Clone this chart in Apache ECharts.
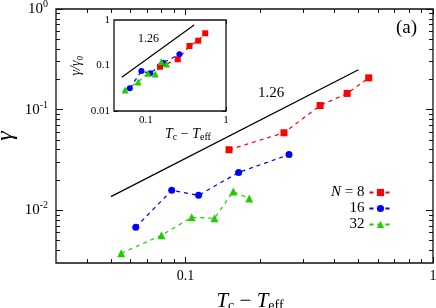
<!DOCTYPE html>
<html><head><meta charset="utf-8">
<script src="https://cdn.jsdelivr.net/npm/echarts@6/dist/echarts.min.js"></script>
<style>html,body{margin:0;padding:0;background:#fff}#c{width:436px;height:308px}</style>
</head><body><div id="c"></div>
<script>
// ---- data ----
var xN8  = [0.15, 0.25, 0.35, 0.45, 0.55];
var yN8  = [0.040, 0.059, 0.110, 0.145, 0.207];
var xN16 = [0.063, 0.088, 0.113, 0.164, 0.262];
var yN16 = [0.0068, 0.0158, 0.0141, 0.0238, 0.0358];
var xN32 = [0.055, 0.080, 0.106, 0.131, 0.156, 0.181];
var yN32 = [0.00375, 0.00565, 0.00853, 0.00833, 0.0154, 0.0131];
// inset: gamma / gamma0
var yN8s  = [0.094, 0.137, 0.268, 0.351, 0.51];
var yN16s = [0.0315, 0.0757, 0.0674, 0.115, 0.176];
var yN32s = [0.029, 0.0434, 0.0674, 0.065, 0.121, 0.108];
// power-law guide lines (slope 1.26)
var fitX = [0.05, 0.5];
var fitY = [0.0137, 0.249];
var fitXs = [0.05, 0.4];
var fitYs = [0.055, 0.78];
// ticks
var mainXMajor = [0.1, 1];
var mainXMinor = [0.04,0.05,0.06,0.07,0.08,0.09,0.2,0.3,0.4,0.5,0.6,0.7,0.8,0.9];
var mainYMajor = [0.01, 0.1, 1];
var mainYMinor = [0.004,0.005,0.006,0.007,0.008,0.009,0.02,0.03,0.04,0.05,0.06,0.07,0.08,0.09,0.2,0.3,0.4,0.5,0.6,0.7,0.8,0.9];
var insXMajor = [0.1, 1];
var insXMinor = [0.05,0.06,0.07,0.08,0.09,0.2,0.3,0.4,0.5,0.6,0.7,0.8,0.9];
var insYMajor = [0.01, 0.1, 1];
var insYMinor = [0.02,0.03,0.04,0.05,0.06,0.07,0.08,0.09,0.2,0.3,0.4,0.5,0.6,0.7,0.8,0.9];
var legendNames = ['N = 8', '16', '32'];

var FONT = 'Liberation Serif';
var AX = '#111';
var RED = '#ff0000', BLUE = '#0000ff', GREEN = '#22cc00';

var chart = echarts.init(document.getElementById('c'), null, { renderer: 'canvas' });
window.chart = chart;

function pairs(xs, ys) { return xs.map(function (x, i) { return [x, ys[i]]; }); }

function axisGroup(dim, grid, min, max, majors, minors, majLen, minLen, first) {
  var sides = dim === 'x' ? ['bottom', 'top'] : ['left', 'right'];
  var out = [];
  sides.forEach(function (side, si) {
    [[majors, majLen], [minors, minLen]].forEach(function (pair, ki) {
      var a = {
        type: 'log', logBase: 10, gridIndex: grid, min: min, max: max, position: side,
        axisLine: { show: false, onZero: false },
        splitLine: { show: false },
        axisTick: { show: true, inside: true, length: pair[1], customValues: pair[0],
                    lineStyle: { color: AX, width: 1 } },
        axisLabel: { show: false }
      };
      if (si === 0 && ki === 0) Object.assign(a, first);
      out.push(a);
    });
  });
  return out;
}

var subRich = {
  i: { fontFamily: FONT, fontStyle: 'italic', fontSize: 21, color: '#000' },
  n: { fontFamily: FONT, fontSize: 21, color: '#000' },
  sub: { fontFamily: FONT, fontSize: 14, color: '#000', padding: [9, 0, 0, 0] }
};
var subRichS = {
  i: { fontFamily: FONT, fontStyle: 'italic', fontSize: 14, color: '#000' },
  n: { fontFamily: FONT, fontSize: 14, color: '#000' },
  sub: { fontFamily: FONT, fontSize: 10, color: '#000', padding: [6, 0, 0, 0] }
};
function fmtNum(v) { return String(+(+v).toPrecision(3)); }

var xAxes = [].concat(
  axisGroup('x', 0, 0.03, 1, mainXMajor, mainXMinor, 6, 4, {
    axisLabel: { show: true, customValues: mainXMajor, formatter: fmtNum,
                 fontFamily: FONT, fontSize: 14, color: '#000', margin: 6 },
    name: '{i|T}{sub|c}{n| − }{i|T}{sub|eff}', nameLocation: 'middle', nameGap: 27, nameMoveOverlap: false,
    nameTextStyle: { rich: subRich, fontFamily: FONT, fontSize: 21, padding: [0, 0, 0, 11] }
  }),
  axisGroup('x', 1, 0.04, 1, insXMajor, insXMinor, 4, 2.5, {
    axisLabel: { show: true, customValues: insXMajor, formatter: fmtNum,
                 fontFamily: FONT, fontSize: 11, color: '#000', margin: 4 },
    name: '{i|T}{sub|c}{n| − }{i|T}{sub|eff}', nameLocation: 'middle', nameGap: 14,
    nameTextStyle: { rich: subRichS, fontFamily: FONT, fontSize: 14, padding: [0, 0, 0, 36] }
  })
);
var yAxes = [].concat(
  axisGroup('y', 0, 0.003, 1, mainYMajor, mainYMinor, 7, 4, {
    axisLabel: { show: true, customValues: mainYMajor,
                 formatter: function (v) { return '{b|10}{s|' + Math.round(Math.log10(v)) + '}'; },
                 margin: 8,
                 rich: { b: { fontFamily: FONT, fontSize: 15, color: '#000' },
                         s: { fontFamily: FONT, fontSize: 10, color: '#000', padding: [0, 0, 9, 0] } } },
    name: 'γ', nameLocation: 'middle', nameRotate: 90, nameGap: 38, nameMoveOverlap: false,
    nameTextStyle: { fontFamily: FONT, fontStyle: 'italic', fontSize: 24, color: '#000' }
  }),
  axisGroup('y', 1, 0.01, 1, insYMajor, insYMinor, 4, 2.5, {
    axisLabel: { show: true, customValues: insYMajor, formatter: fmtNum,
                 fontFamily: FONT, fontSize: 11, color: '#000', margin: 4 },
    name: 'γ/γ₀', nameLocation: 'middle', nameRotate: 90, nameGap: 31,
    nameTextStyle: { fontFamily: FONT, fontStyle: 'italic', fontSize: 14, color: '#000' }
  })
);

function dataSeries(name, xs, ys, color, symbol, size, xi, yi, z) {
  return {
    type: 'line', name: name, data: pairs(xs, ys), xAxisIndex: xi, yAxisIndex: yi,
    symbol: symbol, symbolSize: size, showSymbol: true, z: z,
    itemStyle: { color: color },
    lineStyle: { color: color, width: 1.2, type: [4, 4] },
    emphasis: { disabled: true }
  };
}

var option = {
  animation: false,
  backgroundColor: '#fff',
  grid: [
    { left: 56, top: 9, right: 3, bottom: 45, show: true, borderColor: AX, borderWidth: 1.3,
      backgroundColor: 'transparent', outerBoundsMode: 'none', containLabel: false },
    { left: 114, top: 20, width: 112, height: 91, show: true, borderColor: AX, borderWidth: 1.3,
      backgroundColor: '#fff', z: 3, outerBoundsMode: 'none', containLabel: false }
  ],
  xAxis: xAxes,
  yAxis: yAxes,
  legend: {
    data: legendNames, orient: 'vertical', left: 326, top: 180, itemGap: 1,
    itemWidth: 22, itemHeight: 9, align: 'right', selectedMode: false,
    formatter: function (n) { return n === 'N = 8' ? '{i|N}{n| = 8}' : '{n|' + n + '}'; },
    textStyle: { width: 37, align: 'right', fontFamily: FONT, fontSize: 15, color: '#000',
      rich: { i: { fontFamily: FONT, fontStyle: 'italic', fontSize: 15, color: '#000' },
              n: { fontFamily: FONT, fontSize: 15, color: '#000' } } }
  },
  graphic: [
    { type: 'text', left: 396, top: 19, style: { text: '(a)', font: '19px "Liberation Serif"', fill: '#000' } },
    { type: 'text', left: 258, top: 86, style: { text: '1.26', font: '15px "Liberation Serif"', fill: '#000' } },
    { type: 'text', left: 138, top: 33, z: 10, style: { text: '1.26', font: '12px "Liberation Serif"', fill: '#000' } }
  ],
  series: [
    { type: 'line', name: 'fit', data: pairs(fitX, fitY), xAxisIndex: 0, yAxisIndex: 0,
      symbol: 'none', lineStyle: { color: '#000', width: 1.3 }, emphasis: { disabled: true } },
    dataSeries('N = 8', xN8, yN8, RED, 'rect', 7, 0, 0, 2),
    dataSeries('16', xN16, yN16, BLUE, 'circle', 7, 0, 0, 2),
    dataSeries('32', xN32, yN32, GREEN, 'triangle', 8, 0, 0, 2),
    { type: 'line', name: 'fit inset', data: pairs(fitXs, fitYs), xAxisIndex: 4, yAxisIndex: 4,
      symbol: 'none', z: 5, lineStyle: { color: '#000', width: 1.2 }, emphasis: { disabled: true } },
    dataSeries('N = 8 inset', xN8, yN8s, RED, 'rect', 6, 4, 4, 5),
    dataSeries('16 inset', xN16, yN16s, BLUE, 'circle', 6, 4, 4, 5),
    dataSeries('32 inset', xN32, yN32s, GREEN, 'triangle', 7, 4, 4, 5)
  ]
};
try {
  chart.setOption(option);
} catch (e) {
  document.body.insertAdjacentHTML('beforeend', '<pre style="position:absolute;top:0;left:0;font-size:9px">' + e.stack + '</pre>');
}
</script>
</body></html>
